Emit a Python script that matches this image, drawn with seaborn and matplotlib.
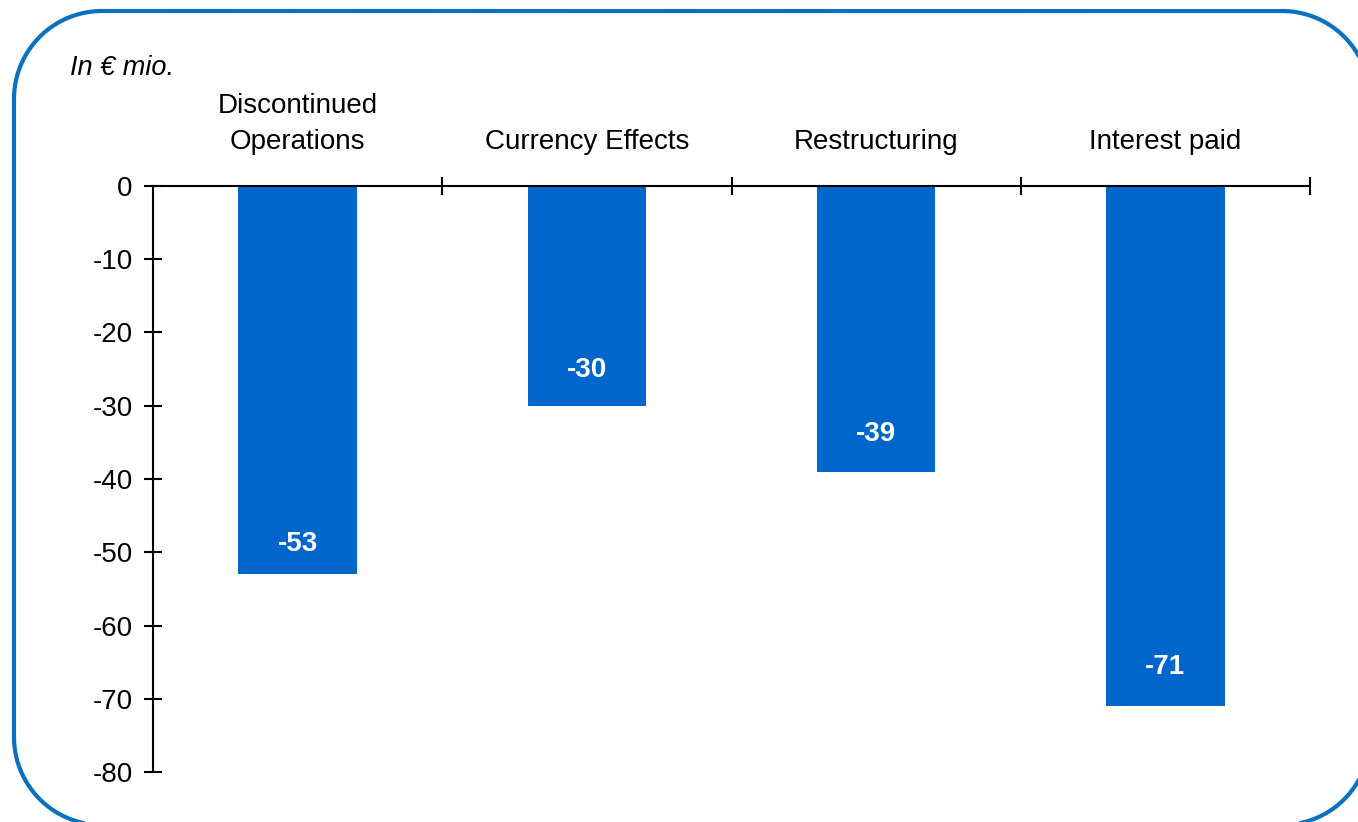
import matplotlib
matplotlib.use("Agg")
import matplotlib.pyplot as plt
from matplotlib.ticker import FixedLocator
import numpy as np
import seaborn as sns
import pandas as pd

categories = ["Discontinued\nOperations", "Currency Effects", "Restructuring", "Interest paid"]
values = [-53, -30, -39, -71]
y_ticks = [0, -10, -20, -30, -40, -50, -60, -70, -80]
unit_label = "In € mio."

sns.set_theme(style="white")
plt.rcParams['font.family'] = ['Liberation Sans', 'DejaVu Sans']
plt.rcParams['text.color'] = 'black'
plt.rcParams['xtick.labelcolor'] = 'black'
plt.rcParams['ytick.labelcolor'] = 'black'

W, H, DPI = 1358, 822, 100
fig = plt.figure(figsize=(W / DPI, H / DPI), dpi=DPI)
fig.patch.set_facecolor("white")

# rounded frame drawn in pixel coordinates
bg = fig.add_axes([0, 0, 1, 1], zorder=0)
bg.set_xlim(0, W)
bg.set_ylim(H, 0)
bg.axis("off")
L, T, R, B, RAD = 14, 11, 1370, 825, 88
def corner(cx, cy, a0, a1):
    a = np.radians(np.linspace(a0, a1, 40))
    return cx + RAD * np.cos(a), cy + RAD * np.sin(a)
xs, ys = [], []
for cx, cy, a0, a1 in [(L + RAD, T + RAD, 180, 270), (R - RAD, T + RAD, 270, 360),
                       (R - RAD, B - RAD, 0, 90), (L + RAD, B - RAD, 90, 180)]:
    px, py = corner(cx, cy, a0, a1)
    xs.extend(px); ys.extend(py)
xs.append(xs[0]); ys.append(ys[0])
bg.plot(xs, ys, color="#0A70C0", linewidth=3.0, clip_on=False, solid_capstyle="round")

ax = fig.add_axes([153 / W, 1 - 772 / H, (1310 - 153) / W, (772 - 186) / H], zorder=1)
ax.patch.set_alpha(0)

df = pd.DataFrame({"category": categories, "value": values})
sns.barplot(data=df, x="category", y="value", color="#0066CC", saturation=1,
            width=0.41, ax=ax, edgecolor="none")

ax.set_ylim(-80, 0)
ax.set_xlim(-0.5, len(categories) - 0.5)
ax.set_xlabel("")
ax.set_ylabel("")

for side in ["right", "bottom"]:
    ax.spines[side].set_visible(False)
for side in ["left", "top"]:
    ax.spines[side].set_visible(True)
    ax.spines[side].set_color("black")
    ax.spines[side].set_linewidth(1.5)

ax.xaxis.tick_top()
ax.set_xticks(range(len(categories)))
ax.set_xticklabels(categories, fontsize=20, linespacing=1.5)
ax.tick_params(axis="x", which="major", length=0, pad=22, top=True, bottom=False)
ax.xaxis.set_minor_locator(FixedLocator([i + 0.5 for i in range(len(categories))]))
ax.tick_params(axis="x", which="minor", direction="inout", length=13, width=1.5,
               color="black", top=True, bottom=False)

ax.set_yticks(y_ticks)
ax.set_yticklabels([str(v) for v in y_ticks], fontsize=20)
ax.tick_params(axis="y", which="major", direction="inout", length=13, width=1.5,
               color="black", left=True, pad=8)

# label offsets (pixels above bar end) as in the original layout
label_offsets_px = [30, 36, 38, 39]
for i, (v, off) in enumerate(zip(values, label_offsets_px)):
    ax.annotate(str(v), xy=(i, v), xytext=(0, off * 72 / DPI), textcoords="offset points",
                ha="center", va="center", color="white", fontsize=20, fontweight="bold")

fig.text(70 / W, 1 - 68 / H, unit_label, fontsize=19.5, fontstyle="italic",
         ha="left", va="center")

fig.savefig("out.png", dpi=DPI)
